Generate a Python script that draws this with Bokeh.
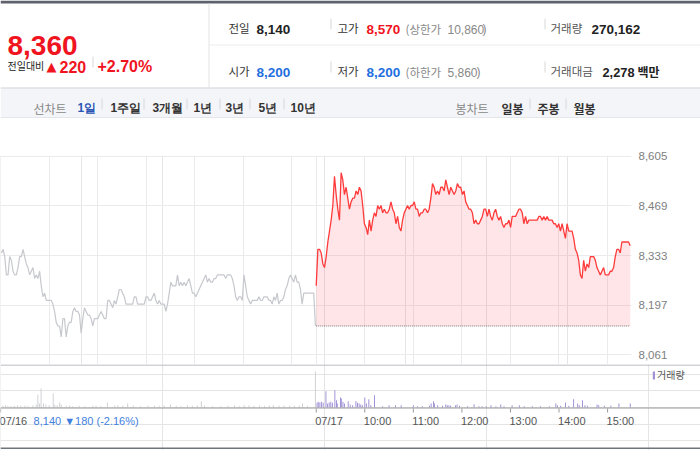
import numpy as np
from bokeh.plotting import figure
from bokeh.models import (ColumnDataSource, Range1d, FixedTicker, Grid, NumeralTickFormatter,
                          Span, Legend, LegendItem)
from bokeh.layouts import column
from bokeh.embed import file_html
from bokeh.resources import INLINE
from bokeh.core.properties import value

# ---------------- data ----------------
PREV_CLOSE = 8140
Y_TICKS = [8061, 8197, 8333, 8469, 8605]

# 07/16 (previous day) price, sampled about every 2 minutes from 09:00 to 15:30
PREV_PRICES = [
    8340, 8350, 8330, 8280, 8280, 8330, 8320, 8290, 8280, 8280,
    8300, 8330, 8330, 8350, 8330, 8310, 8300, 8280, 8290, 8300,
    8270, 8280, 8270, 8290, 8250, 8220, 8230, 8210, 8210, 8210,
    8210, 8200, 8180, 8150, 8140, 8140, 8110, 8160, 8160, 8110,
    8140, 8150, 8150, 8180, 8190, 8180, 8180, 8170, 8120, 8160,
    8190, 8180, 8170, 8170, 8160, 8140, 8160, 8160, 8160, 8170,
    8180, 8170, 8160, 8160, 8210, 8210, 8200, 8190, 8210, 8200,
    8220, 8240, 8240, 8230, 8220, 8200, 8200, 8200, 8200, 8200,
    8220, 8220, 8200, 8200, 8200, 8200, 8200, 8220, 8220, 8210,
    8210, 8220, 8230, 8210, 8200, 8210,
    8200, 8200, 8200, 8180, 8200, 8230, 8260, 8250, 8250, 8250,
    8280, 8250, 8260, 8250, 8260, 8250, 8260, 8270, 8250, 8230,
    8230, 8220, 8230, 8240, 8250, 8260, 8270, 8280, 8260, 8270,
    8260, 8260, 8270, 8270, 8280, 8280, 8280, 8280, 8280, 8270,
    8280, 8280, 8280, 8270, 8250, 8220, 8210, 8220, 8220, 8210,
    8280, 8250, 8220, 8210, 8200, 8210, 8210, 8210, 8210, 8220,
    8210, 8210, 8220, 8220, 8220, 8210, 8210, 8200, 8220, 8210,
    8230, 8200, 8210, 8210, 8220, 8240, 8250, 8270, 8280, 8270,
    8260, 8280, 8260, 8260, 8240, 8200, 8230, 8230, 8230, 8230,
    8230, 8230, 8230, 8140,
]

# 07/17 (today) price, sampled about every 2 minutes from 09:00 to 15:30
TODAY_PRICES = [
    8250, 8350, 8350, 8340, 8310, 8300, 8330, 8370, 8400, 8430,
    8470, 8550, 8500, 8460, 8430, 8560, 8540, 8500, 8520, 8490,
    8460, 8480, 8490, 8490, 8510, 8500, 8520, 8510, 8470, 8420,
    8410, 8390, 8430, 8400, 8430, 8450, 8440, 8470, 8460, 8470,
    8450, 8460, 8450, 8450, 8460, 8480, 8460, 8450, 8420, 8440,
    8410, 8400, 8430, 8450, 8460, 8470, 8460, 8470, 8470, 8480,
    8460, 8460, 8440, 8450, 8450, 8460, 8460, 8450, 8460, 8490,
    8530, 8520, 8500, 8510, 8500, 8520, 8520, 8510, 8540, 8520,
    8500, 8520, 8510, 8500, 8510, 8530, 8520, 8520, 8500, 8510,
    8480, 8470, 8460, 8460, 8450, 8420, 8430, 8420, 8420, 8430,
    8440, 8460, 8460, 8440, 8460, 8440, 8430, 8450, 8460, 8440,
    8430, 8440, 8420, 8410, 8420, 8420, 8430, 8410, 8440, 8440,
    8440, 8450, 8460, 8460, 8450, 8420, 8440, 8420, 8430, 8430,
    8430, 8430, 8430, 8430, 8440, 8440, 8430, 8440, 8430, 8440,
    8430, 8430, 8430, 8420, 8420, 8410, 8420, 8400, 8420, 8400,
    8380, 8420, 8400, 8400, 8400, 8380, 8350, 8340, 8320, 8280,
    8270, 8320, 8290, 8310, 8300, 8330, 8330, 8330, 8320, 8300,
    8290, 8280, 8290, 8300, 8280, 8280, 8280, 8290, 8290, 8300,
    8330, 8350, 8350, 8340, 8370, 8370, 8370, 8370, 8370, 8360,
]

# volume: minute after 09:00 and shares
PREV_VOL_MIN = [3, 6, 9, 13, 17, 21, 25, 30, 34, 40, 44, 46, 48, 50, 53, 56, 60, 65, 67, 70,
                73, 75, 81, 85, 89, 97, 104, 114, 118, 124, 132, 141, 145, 151, 157, 164, 173, 182, 190, 196,
                202, 210, 217, 223, 231, 237, 243, 248, 252, 262, 272, 281, 289, 295, 301, 307, 313, 320, 326, 332,
                337, 344, 350, 357, 363, 369, 373, 379, 389]
PREV_VOLS = [500, 700, 500, 400, 500, 700, 600, 600, 500, 700, 900, 3900, 1200, 5700, 1200, 900, 700, 4200, 900, 700,
             1500, 900, 500, 600, 400, 500, 400, 500, 500, 400, 1500, 600, 700, 500, 1200, 500, 400, 500, 500, 500,
             600, 900, 500, 400, 700, 500, 600, 1900, 600, 400, 400, 500, 600, 400, 700, 600, 500, 600, 500, 600,
             700, 500, 600, 500, 500, 600, 1200, 500, 10800]
TODAY_VOL_MIN = [1, 2.5, 4.5, 6.6, 8.6, 12, 14, 16, 18, 20, 23, 25, 26, 30, 31, 33, 35, 39.5, 42, 45,
                 49, 51, 53, 55, 57, 60, 62, 65, 67.5, 72, 82, 90, 98, 105, 120, 125, 131, 140, 142, 145,
                 146, 150, 156, 160, 162, 164, 166, 172, 174, 177, 187, 195, 201, 205, 210, 216, 222, 228, 232, 242,
                 251, 257, 267, 277, 288, 296, 298, 302, 308, 312, 318, 323, 325, 329, 332, 335, 347, 349, 356, 364,
                 374, 388]
TODAY_VOLS = [1400, 1700, 1500, 1700, 1400, 4900, 1200, 1500, 1700, 1400, 5200, 2200, 1200, 3000, 2700, 1700, 1200, 1900, 900, 700,
              1900, 1400, 1200, 900, 700, 3000, 1200, 2500, 700, 3700, 400, 700, 700, 700, 700, 400, 400, 500, 1200, 1900,
              1200, 700, 500, 900, 700, 700, 500, 700, 900, 500, 400, 1000, 400, 400, 400, 700, 400, 900, 400, 700,
              700, 400, 400, 400, 400, 1200, 700, 500, 1500, 500, 2500, 1200, 700, 2200, 700, 500, 900, 700, 500, 500,
              1200, 1200]

GRID_MIN = [60, 120, 180, 240, 300, 360, 390, 450, 510, 570, 630, 690, 750]
X_TICK_MIN = [0, 390, 450, 510, 570, 630, 690, 750]
X_TICK_LABELS = ["07/16", "07/17", "10:00", "11:00", "12:00", "13:00", "14:00", "15:00"]
PREV_DAY_NOTE = "8,140 \u25bc180 (-2.16%)"

# ------------- styles -------------
RED = "#f0141e"
BLUE = "#1f6fe0"
NUM = "Liberation Sans"
KR = "Noto Sans CJK KR"
DAY = 390  # minutes per session on the compressed axis

prev_x = np.linspace(1, 389, len(PREV_PRICES))
today_x = DAY + np.linspace(0, 388, len(TODAY_PRICES))


def no_align(f):
    try:
        f.frame_align = False
    except Exception:
        pass
    return f


# ------------- header -------------
h = figure(width=700, height=118, x_range=Range1d(0, 700), y_range=Range1d(118, 0),
           toolbar_location=None, output_backend="svg", min_border=0,
           outline_line_color=None, background_fill_color="white", border_fill_color="white")
no_align(h)
h.axis.visible = False
h.grid.visible = False

h.quad(left=[0, 0], right=[700, 700], top=[0, 87], bottom=[3, 118],
       fill_color=["#5e626b", "#f4f5f8"], line_color=None)
h.segment(x0=[0, 0, 208.5, 208], y0=[87.5, 117.5, 3, 44.5], x1=[700, 700, 208.5, 700], y1=[87.5, 117.5, 87, 44.5],
          line_color=["#d3d6dc", "#d3d6dc", "#e3e3e3", "#ececec"], line_width=1)
sep_x = [92.5, 330.5, 544.5, 330.5, 544.5, 101.5, 143.5, 186.5, 219.5, 249.5, 283.5, 529.5, 565.5]
sep_y0 = [56, 18, 18, 61, 61, 98, 98, 98, 98, 98, 98, 98, 98]
h.segment(x0=sep_x, y0=sep_y0, x1=sep_x, y1=[y + 11 for y in sep_y0], line_color="#d8d8d8", line_width=1)

items = [
    ("8,360", 7, 45, "28px", RED, NUM, "bold"),
    ("전일대비", 7, 64.5, "10px", "#222", KR, "normal"),
    ("\u25b2", 46, 65.5, "13px", RED, "DejaVu Sans", "normal"),
    ("220", 59, 66, "16px", RED, NUM, "bold"),
    ("+2.70%", 97, 66, "16px", RED, NUM, "bold"),
    ("전일", 228, 27.5, "11.5px", "#333", KR, "normal"),
    ("8,140", 256, 28.5, "13.5px", "#222", NUM, "bold"),
    ("고가", 337, 27.5, "11.5px", "#333", KR, "normal"),
    ("8,570", 366, 28.5, "13.5px", RED, NUM, "bold"),
    ("(상한가", 405, 28, "11.5px", "#888", KR, "normal"),
    ("10,860", 447, 28.5, "12px", "#888", NUM, "normal"),
    (")", 482, 28.5, "12px", "#888", NUM, "normal"),
    ("거래량", 550, 27.5, "11.5px", "#555", KR, "normal"),
    ("270,162", 591, 28.5, "13.5px", "#222", NUM, "bold"),
    ("시가", 228, 70.5, "11.5px", "#333", KR, "normal"),
    ("8,200", 256, 71.5, "13.5px", BLUE, NUM, "bold"),
    ("저가", 337, 70.5, "11.5px", "#333", KR, "normal"),
    ("8,200", 366, 71.5, "13.5px", BLUE, NUM, "bold"),
    ("(하한가", 405, 71, "11.5px", "#888", KR, "normal"),
    ("5,860", 447, 71.5, "12px", "#888", NUM, "normal"),
    (")", 476, 71.5, "12px", "#888", NUM, "normal"),
    ("거래대금", 550, 70.5, "11.5px", "#555", KR, "normal"),
    ("2,278", 602, 71.5, "12.8px", "#222", NUM, "bold"),
    ("백만", 637, 70.5, "12px", "#222", KR, "bold"),
    ("선차트", 33, 107.5, "12px", "#888", KR, "normal"),
    ("1일", 77, 107.5, "12px", "#2b55b5", NUM, "bold"),
    ("1주일", 110, 107.5, "12px", "#333", NUM, "bold"),
    ("3개월", 152, 107.5, "12px", "#333", NUM, "bold"),
    ("1년", 193, 107.5, "12px", "#333", NUM, "bold"),
    ("3년", 225, 107.5, "12px", "#333", NUM, "bold"),
    ("5년", 258, 107.5, "12px", "#333", NUM, "bold"),
    ("10년", 290, 107.5, "12px", "#333", NUM, "bold"),
    ("봉차트", 455, 107.5, "12px", "#888", KR, "normal"),
    ("일봉", 501, 107.5, "12px", "#333", KR, "bold"),
    ("주봉", 537, 107.5, "12px", "#333", KR, "bold"),
    ("월봉", 573, 107.5, "12px", "#333", KR, "bold"),
]
hsrc = ColumnDataSource(dict(
    text=[i[0] for i in items], x=[i[1] for i in items], y=[i[2] for i in items],
    size=[i[3] for i in items], color=[i[4] for i in items], font=[i[5] for i in items],
    style=[i[6] for i in items]))
h.text(x="x", y="y", text="text", source=hsrc, text_font_size="size", text_color="color",
       text_font="font", text_font_style="style", text_align="left", text_baseline="alphabetic")

# ------------- price chart -------------
p = figure(width=700, height=246, x_range=Range1d(-0.12, 779.6), y_range=Range1d(8034.5, 8607),
           x_axis_location=None, y_axis_location="right", toolbar_location=None, output_backend="svg",
           min_border_left=0, min_border_right=69, min_border_top=37, min_border_bottom=0,
           outline_line_color=None, background_fill_color="white", border_fill_color="white")
no_align(p)
p.yaxis.ticker = FixedTicker(ticks=Y_TICKS)
p.yaxis.formatter = NumeralTickFormatter(format="0,0")
p.yaxis.axis_line_color = None
p.yaxis.major_tick_line_color = None
p.yaxis.major_tick_out = 0
p.yaxis.major_tick_in = 0
p.yaxis.minor_tick_line_color = None
p.yaxis.major_label_standoff = 7
p.yaxis.major_label_text_color = "#808080"
p.yaxis.major_label_text_font_size = "11.5px"
p.yaxis.major_label_text_font = NUM
p.ygrid.grid_line_color = "#ebebeb"
p.add_layout(Grid(dimension=0, ticker=FixedTicker(ticks=GRID_MIN), grid_line_color="#ebebeb"))

p.line(prev_x, PREV_PRICES, line_color="#c6c8cd", line_width=1.2)
p.varea(x=today_x, y1=[PREV_CLOSE] * len(today_x), y2=TODAY_PRICES, fill_color="#ff3344", fill_alpha=0.13)
p.line([today_x[0], today_x[-1]], [PREV_CLOSE, PREV_CLOSE], line_color="#777", line_width=1, line_dash="1 1")
p.line(today_x, TODAY_PRICES, line_color="#ff3b3b", line_width=1.3)

# ------------- volume chart -------------
VPX = 300  # shares per pixel in the volume pane
v = figure(width=700, height=86, x_range=Range1d(-0.12, 864.8), y_range=Range1d(-43 * VPX, 43 * VPX),
           x_axis_location=None, y_axis_location=None, toolbar_location=None, output_backend="svg",
           min_border=0, outline_line_color=None, background_fill_color="white", border_fill_color="white")
no_align(v)
v.add_layout(Span(location=42.5 * VPX, dimension="width", line_color="#a3a6ad", line_width=1))
v.add_layout(Span(location=-0.5 * VPX, dimension="width", line_color="#9a9a9a", line_width=1))
v.add_layout(Span(location=-40.8 * VPX, dimension="width", line_color="#70747c", line_width=1.5))

v.vbar(x=PREV_VOL_MIN, top=PREV_VOLS, width=1.2, fill_color="#cfd0d4", line_color=None)
tb = v.vbar(x=[DAY + m for m in TODAY_VOL_MIN], top=TODAY_VOLS, width=1.2, fill_color="#a08fd6", line_color=None)

n = len(X_TICK_MIN)
v.segment(x0=X_TICK_MIN, y0=[-VPX] * n, x1=X_TICK_MIN, y1=[-5 * VPX] * n, line_color="#9a9a9a", line_width=1)
v.text(x=X_TICK_MIN, y=[-13 * VPX] * n, text=X_TICK_LABELS, x_offset=-1, text_font=value(NUM),
       text_font_size="11px", text_color="#555", text_baseline="middle", text_align="left")
v.text(x=[0], y=[-13 * VPX], text=[PREV_DAY_NOTE], x_offset=33, text_font=value(NUM),
       text_font_size="11px", text_color="#3f7fde", text_baseline="middle", text_align="left")

legend = Legend(items=[LegendItem(label="거래량", renderers=[tb])], location=(652, 68),
                padding=0, margin=0, spacing=0, glyph_width=3, glyph_height=10, label_height=10,
                label_standoff=2, label_text_font_size="10px", label_text_font=KR,
                label_text_color="#555", border_line_color=None, background_fill_alpha=0)
v.add_layout(legend)

layout = column(h, p, v, spacing=0)
open("out.html", "w").write(file_html(layout, INLINE))
